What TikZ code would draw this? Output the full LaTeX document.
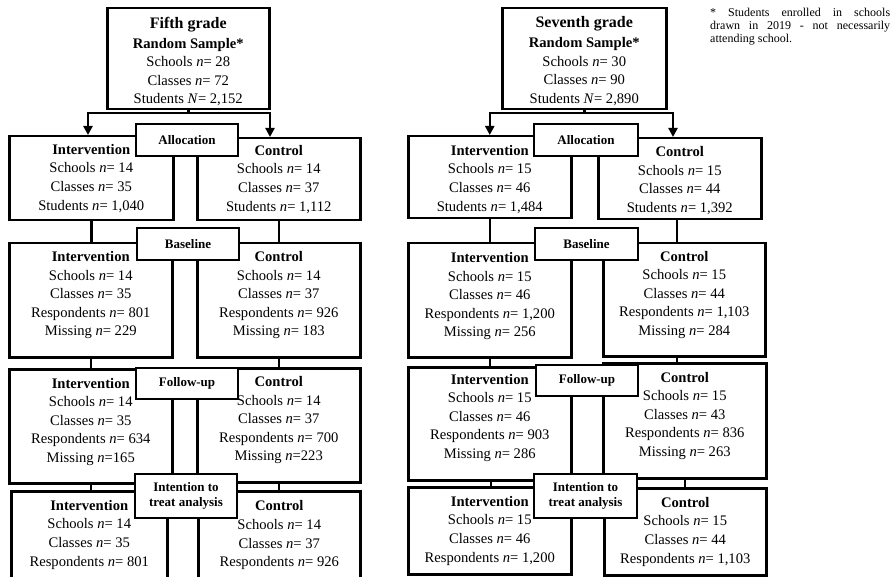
\documentclass[tikz,border=0pt]{standalone}
\usepackage{fontspec}
\setmainfont{Liberation Serif}
\usetikzlibrary{arrows.meta}
\newcommand\gbox[6]{%
  \node[grp, minimum width=#4pt, minimum height=#5pt] (#1) at (#2,#3) {};
  \coordinate (#1-c) at ([yshift=#6pt]#1.center);}
\newcommand\gtext[2]{\node[gtxt] (#1-t) at (#1-c) {#2};}
\begin{document}
\begin{tikzpicture}[x=1pt,y=-1pt,
  grp/.style={draw, line width=2.5pt, inner sep=0pt, anchor=north west},
  gtxt/.style={align=center, inner sep=0pt, font=\fontsize{14.6}{18.6}\selectfont},
  stage/.style={draw, fill=white, line width=2pt, align=center, inner sep=0pt,
    font=\fontsize{13}{15.5}\selectfont\bfseries, anchor=north west},
  conn/.style={line width=2.5pt},
  arr/.style={line width=2.5pt, -{Triangle[length=9pt,width=9pt]}}
]
\useasboundingbox (0,0) rectangle (894,577);
\clip (0,0) rectangle (894,577);

% ---------------- Fifth grade ----------------
\gbox{top5}{106}{7}{162}{101}{-3}
\gbox{ia5}{8}{135}{164}{84}{0}
\gbox{ca5}{196}{137}{163}{82}{0}
\gbox{ib5}{8}{242}{163}{114}{5}
\gbox{cb5}{196}{242}{163}{114}{5}
\gbox{if5}{8}{368}{163}{114}{4.5}
\gbox{cf5}{196}{367}{163}{114}{5}
\gbox{it5}{10}{490}{156}{95}{4}
\gbox{ct5}{197}{490}{162}{95}{3.5}

\coordinate (s5) at (top5.south |- 0,113);
\draw[conn] (top5.south) -- (s5);
\draw[arr] (s5) -| (ia5.north -| 88,0);
\draw[arr] (s5) -| (ca5.north -| 270,0);
\draw[conn] (ia5.south) -- (ia5.south |- ib5.north);
\draw[conn] (ca5.south) -- (ca5.south |- cb5.north);
\draw[conn] (ib5.south) -- (ib5.south |- if5.north);
\draw[conn] (cb5.south) -- (cb5.south |- cf5.north);
\draw[conn] (if5.south) -- (if5.south |- it5.north);
\draw[conn] (cf5.south) -- (cf5.south |- ct5.north);

\node[stage, minimum width=102pt, minimum height=32pt] (al5) at (135,123) {Allocation};
\node[stage, minimum width=102pt, minimum height=32pt] (bl5) at (136,227) {Baseline};
\node[stage, minimum width=102pt, minimum height=31pt] (fl5) at (135,367) {Follow-up};
\node[stage, minimum width=102pt, minimum height=44pt] (tl5) at (134,473) {Intention to\\treat analysis};

\gtext{top5}{{\fontsize{16}{20}\selectfont\bfseries Fifth grade}\\[1pt]\textbf{Random Sample*}\\Schools \textit{n}= 28\\Classes \textit{n}= 72\\Students \textit{N}= 2,152}
\gtext{ia5}{\textbf{Intervention}\\Schools \textit{n}= 14\\Classes \textit{n}= 35\\Students \textit{n}= 1,040}
\gtext{ca5}{\textbf{Control}\\Schools \textit{n}= 14\\Classes \textit{n}= 37\\Students \textit{n}= 1,112}
\gtext{ib5}{\textbf{Intervention}\\Schools \textit{n}= 14\\Classes \textit{n}= 35\\Respondents \textit{n}= 801\\Missing \textit{n}= 229}
\gtext{cb5}{\textbf{Control}\\Schools \textit{n}= 14\\Classes \textit{n}= 37\\Respondents \textit{n}= 926\\Missing \textit{n}= 183}
\gtext{if5}{\textbf{Intervention}\\Schools \textit{n}= 14\\Classes \textit{n}= 35\\Respondents \textit{n}= 634\\Missing \textit{n}=165}
\gtext{cf5}{\textbf{Control}\\Schools \textit{n}= 14\\Classes \textit{n}= 37\\Respondents \textit{n}= 700\\Missing \textit{n}=223}
\gtext{it5}{\textbf{Intervention}\\Schools \textit{n}= 14\\Classes \textit{n}= 35\\Respondents \textit{n}= 801}
\gtext{ct5}{\textbf{Control}\\Schools \textit{n}= 14\\Classes \textit{n}= 37\\Respondents \textit{n}= 926}

% ---------------- Seventh grade ----------------
\gbox{top7}{501}{7}{164}{101}{-2.5}
\gbox{ia7}{407}{135}{163}{82}{-2}
\gbox{ca7}{597}{137}{163}{81}{-2}
\gbox{ib7}{407}{242}{163}{114}{4}
\gbox{cb7}{602}{242}{162}{113}{5}
\gbox{if7}{407}{366}{163}{113}{6}
\gbox{cf7}{602}{362}{163}{115}{5}
\gbox{it7}{407}{486}{163}{87}{0}
\gbox{ct7}{603}{487}{162}{87}{0}

\coordinate (s7) at (top7.south |- 0,113);
\draw[conn] (top7.south) -- (s7);
\draw[arr] (s7) -| (ia7.north);
\draw[arr] (s7) -| (ca7.north -| 673,0);
\draw[conn] (ia7.south) -- (ia7.south |- ib7.north);
\draw[conn] (ca7.south -| 677,0) -- (cb7.north -| 677,0);
\draw[conn] (ib7.south) -- (ib7.south |- if7.north);
\draw[conn] (cb7.south -| 677,0) -- (cf7.north -| 677,0);
\draw[conn] (if7.south -| 491,0) -- (it7.north -| 491,0);
\draw[conn] (cf7.south) -- (cf7.south |- ct7.north);

\node[stage, minimum width=104pt, minimum height=32pt] (al7) at (533,123) {Allocation};
\node[stage, minimum width=103pt, minimum height=32pt] (bl7) at (534,227) {Baseline};
\node[stage, minimum width=102pt, minimum height=31pt] (fl7) at (535,364) {Follow-up};
\node[stage, minimum width=103pt, minimum height=44pt] (tl7) at (533,473) {Intention to\\treat analysis};

\gtext{top7}{{\fontsize{16}{20}\selectfont\bfseries Seventh grade}\\[1pt]\textbf{Random Sample*}\\Schools \textit{n}= 30\\Classes \textit{n}= 90\\Students \textit{N}= 2,890}
\gtext{ia7}{\textbf{Intervention}\\Schools \textit{n}= 15\\Classes \textit{n}= 46\\Students \textit{n}= 1,484}
\gtext{ca7}{\textbf{Control}\\Schools \textit{n}= 15\\Classes \textit{n}= 44\\Students \textit{n}= 1,392}
\gtext{ib7}{\textbf{Intervention}\\Schools \textit{n}= 15\\Classes \textit{n}= 46\\Respondents \textit{n}= 1,200\\Missing \textit{n}= 256}
\gtext{cb7}{\textbf{Control}\\Schools \textit{n}= 15\\Classes \textit{n}= 44\\Respondents \textit{n}= 1,103\\Missing \textit{n}= 284}
\gtext{if7}{\textbf{Intervention}\\Schools \textit{n}= 15\\Classes \textit{n}= 46\\Respondents \textit{n}= 903\\Missing \textit{n}= 286}
\gtext{cf7}{\textbf{Control}\\Schools \textit{n}= 15\\Classes \textit{n}= 43\\Respondents \textit{n}= 836\\Missing \textit{n}= 263}
\gtext{it7}{\textbf{Intervention}\\Schools \textit{n}= 15\\Classes \textit{n}= 46\\Respondents \textit{n}= 1,200}
\gtext{ct7}{\textbf{Control}\\Schools \textit{n}= 15\\Classes \textit{n}= 44\\Respondents \textit{n}= 1,103}

% footnote
\node[anchor=north west, inner sep=0pt, align=left, font=\fontsize{12}{13}\selectfont] (note) at (710,7.5)
  {\makebox[180pt][s]{* Students enrolled in schools}\\\makebox[180pt][s]{drawn in 2019 - not necessarily}\\attending school.};
\end{tikzpicture}
\end{document}
